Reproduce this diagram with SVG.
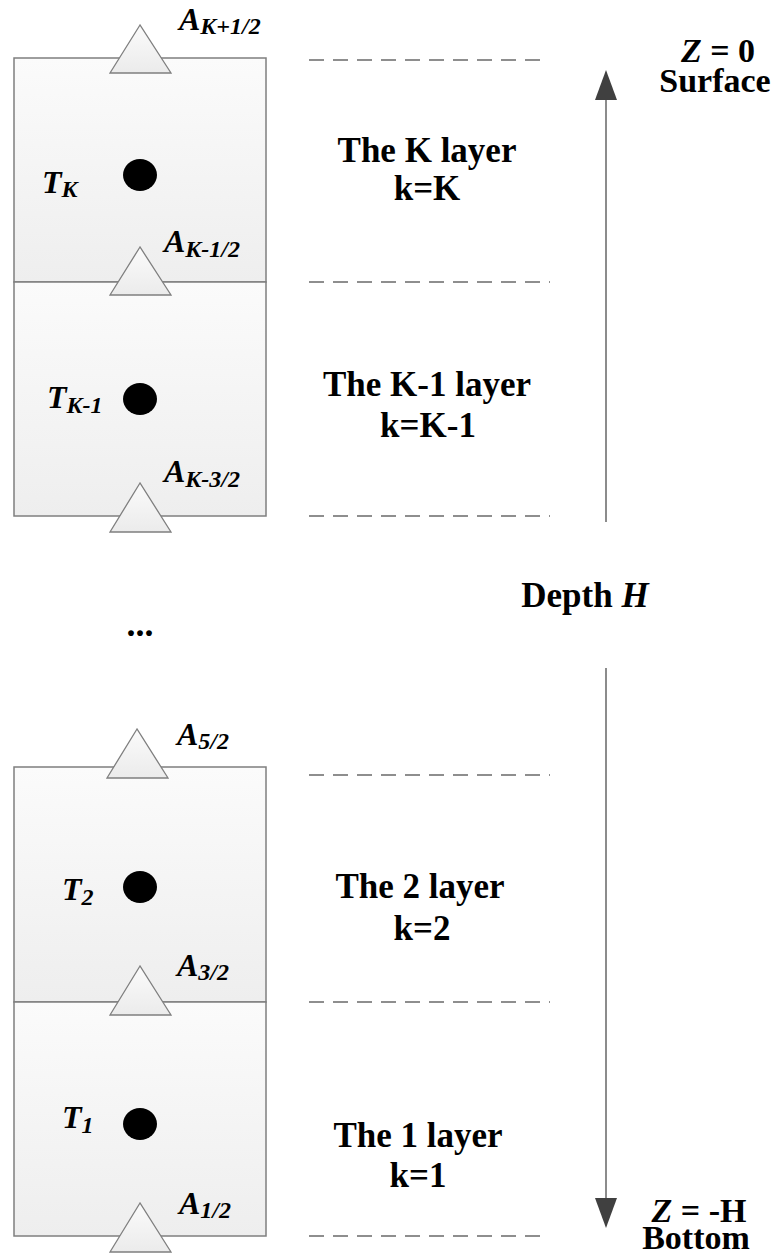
<svg xmlns="http://www.w3.org/2000/svg" width="777" height="1254" viewBox="0 0 777 1254">
  <defs>
    <linearGradient id="boxFill" x1="0" y1="0" x2="0" y2="1">
      <stop offset="0" stop-color="#fbfbfb"/>
      <stop offset="1" stop-color="#eeeeee"/>
    </linearGradient>
    <linearGradient id="triFill" x1="0" y1="0" x2="0" y2="1">
      <stop offset="0" stop-color="#fbfbfb"/>
      <stop offset="1" stop-color="#ebebeb"/>
    </linearGradient>
  </defs>
  <style>
    .box { fill: url(#boxFill); stroke: #7f7f7f; stroke-width: 1.5; }
    .tri { fill: url(#triFill); stroke: #7f7f7f; stroke-width: 1.3; }
    .dot { fill: #000; }
    .dash { stroke: #6a6a6a; stroke-width: 1.5; stroke-dasharray: 15 9; fill: none; }
    .axis { stroke: #666; stroke-width: 1.5; fill: none; }
    .head { fill: #404040; }
    .lbl { font-family: "Liberation Serif", "Times New Roman", serif; font-weight: bold; font-size: 35px; text-anchor: middle; fill: #000; }
    .end { font-size: 34px; }
    .math { font-family: "Liberation Serif", "Times New Roman", serif; font-weight: bold; font-style: italic; font-size: 32px; fill: #000; }
    .sub { font-size: 24px; }
    .it { font-style: italic; }
  </style>

  <rect width="777" height="1254" fill="#ffffff"/>

  <!-- upper stack: layers K and K-1 -->
  <g id="layer-K">
    <rect class="box" x="14" y="58" width="252" height="224"/>
    <ellipse class="dot" cx="140" cy="175" rx="17" ry="16"/>
    <text class="math" x="42" y="193">T<tspan class="sub" dy="4">K</tspan></text>
    <text class="lbl" x="427" y="162">The K layer</text>
    <text class="lbl" x="427" y="200">k=K</text>
  </g>
  <g id="layer-K-1">
    <rect class="box" x="14" y="282" width="252" height="234"/>
    <ellipse class="dot" cx="140" cy="399" rx="17" ry="16"/>
    <text class="math" x="47" y="408">T<tspan class="sub" dy="5">K-1</tspan></text>
    <text class="lbl" x="427" y="396">The K-1 layer</text>
    <text class="lbl" x="428" y="437">k=K-1</text>
  </g>

  <!-- lower stack: layers 2 and 1 -->
  <g id="layer-2">
    <rect class="box" x="14" y="767" width="252" height="235"/>
    <ellipse class="dot" cx="140" cy="887" rx="17" ry="16"/>
    <text class="math" x="62" y="900">T<tspan class="sub" dy="5">2</tspan></text>
    <text class="lbl" x="420" y="898">The 2 layer</text>
    <text class="lbl" x="422" y="940">k=2</text>
  </g>
  <g id="layer-1">
    <rect class="box" x="14" y="1002" width="252" height="234"/>
    <ellipse class="dot" cx="140" cy="1124" rx="17" ry="16"/>
    <text class="math" x="62" y="1128">T<tspan class="sub" dy="5">1</tspan></text>
    <text class="lbl" x="418" y="1147">The 1 layer</text>
    <text class="lbl" x="418" y="1187">k=1</text>
  </g>

  <!-- interface nodes (triangles) -->
  <g id="face-K+1/2">
    <polygon class="tri" points="140,25 110,73 171,73"/>
    <text class="math" x="179" y="30">A<tspan class="sub" dy="4">K+1/2</tspan></text>
  </g>
  <g id="face-K-1/2">
    <polygon class="tri" points="140,247 110,295 171,295"/>
    <text class="math" x="164" y="252">A<tspan class="sub" dy="5">K-1/2</tspan></text>
  </g>
  <g id="face-K-3/2">
    <polygon class="tri" points="140,483 110,532 171,532"/>
    <text class="math" x="164" y="482">A<tspan class="sub" dy="5">K-3/2</tspan></text>
  </g>
  <g id="face-5/2">
    <polygon class="tri" points="137,729 107,778 168,778"/>
    <text class="math" x="177" y="745">A<tspan class="sub" dy="4">5/2</tspan></text>
  </g>
  <g id="face-3/2">
    <polygon class="tri" points="140,966 110,1015 171,1015"/>
    <text class="math" x="177" y="976">A<tspan class="sub" dy="4">3/2</tspan></text>
  </g>
  <g id="face-1/2">
    <polygon class="tri" points="140,1203 110,1252 171,1252"/>
    <text class="math" x="179" y="1214">A<tspan class="sub" dy="4">1/2</tspan></text>
  </g>

  <!-- ellipsis between the stacks -->
  <g id="gap">
    <text class="lbl" x="140" y="636" style="font-size:36px">...</text>
  </g>

  <!-- depth axis labels (two-line labels kept in one text each) -->
  <g id="surface">
    <text class="lbl end"><tspan x="718" y="62"><tspan class="it">Z</tspan> = 0</tspan><tspan x="715" y="92">Surface</tspan></text>
  </g>
  <g id="depth">
    <text class="lbl" x="585" y="607">Depth <tspan class="it">H</tspan></text>
  </g>
  <g id="bottom">
    <text class="lbl end"><tspan x="699" y="1222"><tspan class="it">Z</tspan> = -H</tspan><tspan x="696" y="1249">Bottom</tspan></text>
  </g>

  <!-- connectors: interface guide lines and depth arrows -->
  <g id="connectors">
    <line class="dash" x1="309" y1="60" x2="540" y2="60"/>
    <line class="dash" x1="309" y1="282" x2="550" y2="282"/>
    <line class="dash" x1="309" y1="516" x2="550" y2="516"/>
    <line class="dash" x1="309" y1="775" x2="550" y2="775"/>
    <line class="dash" x1="309" y1="1002" x2="550" y2="1002"/>
    <line class="dash" x1="309" y1="1236" x2="540" y2="1236"/>

    <line class="axis" x1="606" y1="522" x2="606" y2="98"/>
    <polygon class="head" points="606,70 595,100 617,100"/>
    <line class="axis" x1="606" y1="668" x2="606" y2="1200"/>
    <polygon class="head" points="606,1228 595,1198 617,1198"/>
  </g>
</svg>
